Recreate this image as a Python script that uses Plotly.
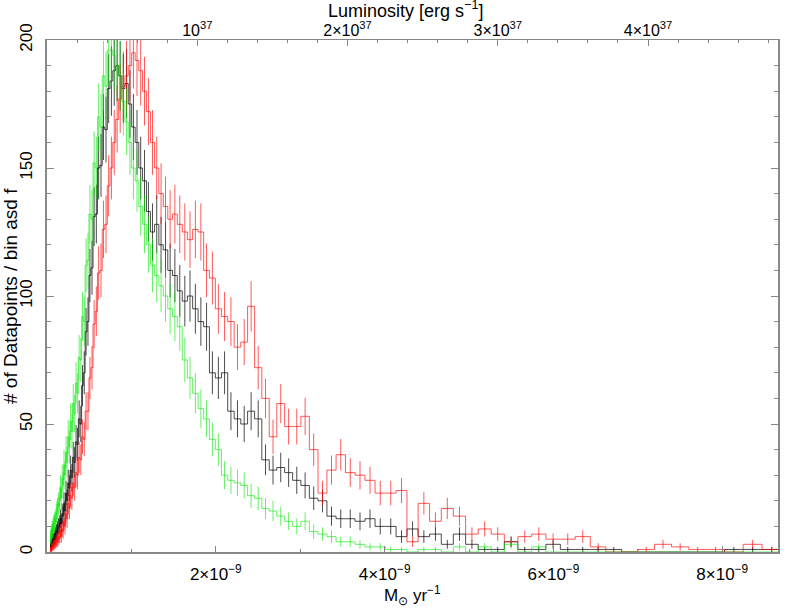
import numpy as np
import plotly.graph_objects as go

# bin grid (uniform in Mdot^0.2), units of 1e-9 Msun/yr
n_bins = 124
edges = (np.linspace(0.04 ** 0.2, 8.7 ** 0.2, n_bins + 1)) ** 5 * 1e-9
centers = 0.5 * (edges[:-1] + edges[1:])

# luminosity per unit accretion rate
lum_per_mdot = 1e37 / 1.78e-9
x_max = 8.66e-9

counts_green = [
    6, 5, 7, 6, 8, 9, 8, 10, 9, 11,
    11, 12, 13, 12, 15, 16, 17, 19, 18, 21,
    25, 21, 29, 26, 34, 30, 39, 35, 45, 41,
    51, 47, 58, 54, 66, 62, 76, 75, 92, 90,
    112, 114, 132, 130, 152, 150, 170, 166, 186, 182,
    196, 196, 194, 190, 186, 176, 168, 160, 150, 145,
    135, 128, 120, 112, 108, 104, 100, 95, 92, 88,
    75, 68, 62, 56, 52, 44, 40, 30, 28, 27,
    26, 22, 21, 17, 16, 14, 12, 10, 12, 8,
    7, 6, 4, 4, 3, 2, 2, 1, 1, 0,
    1, 1, 0, 2, 0, 2, 0, 3, 0, 2,
    0, 0, 0, 0, 0, 0, 0, 0, 0, 0,
    0, 0, 0, 0,
]
counts_black = [
    3, 2, 3, 4, 3, 4, 5, 4, 5, 5,
    6, 5, 7, 7, 8, 8, 9, 10, 10, 11,
    13, 11, 15, 14, 19, 16, 23, 20, 27, 25,
    32, 29, 37, 35, 43, 42, 52, 50, 65, 70,
    86, 90, 108, 111, 131, 132, 150, 151, 166, 165,
    181, 184, 188, 190, 186, 181, 183, 175, 166, 160,
    150, 145, 133, 125, 128, 120, 118, 110, 108, 102,
    98, 100, 95, 90, 88, 70, 68, 70, 55, 52,
    50, 55, 52, 36, 32, 33, 31, 28, 26, 21,
    20, 14, 13, 13, 12, 13, 10, 10, 6, 9,
    6, 7, 3, 7, 3, 1, 1, 4, 1, 1,
    3, 1, 1, 1, 1, 0, 0, 0, 0, 0,
    0, 1, 1, 1,
]
counts_red = [
    1, 1, 1, 2, 1, 2, 2, 2, 3, 2,
    3, 3, 4, 3, 4, 5, 4, 6, 5, 6,
    8, 6, 9, 8, 12, 10, 15, 13, 19, 17,
    22, 21, 27, 25, 31, 30, 37, 36, 45, 44,
    55, 55, 68, 72, 89, 94, 109, 110, 126, 128,
    143, 150, 160, 169, 177, 182, 186, 190, 195, 192,
    188, 180, 172, 160, 150, 140, 135, 130, 132, 128,
    125, 122, 126, 125, 110, 107, 95, 92, 90, 80,
    82, 96, 72, 60, 45, 58, 49, 49, 53, 40,
    23, 32, 38, 31, 30, 28, 23, 23, 24, 4,
    19, 12, 17, 14, 7, 9, 7, 4, 6, 7,
    5, 5, 6, 2, 0, 0, 1, 3, 2, 1,
    1, 0, 3, 1,
]

series = [
    ("black", counts_black, "rgba(0,0,0,0.7)"),
    ("red", counts_red, "rgba(255,0,0,0.65)"),
    ("green", counts_green, "rgba(0,230,0,0.6)"),
]

fig = go.Figure()
for name, counts, color in series:
    fig.add_trace(go.Scatter(
        x=list(edges),
        y=list(counts) + [counts[-1]],
        mode="lines",
        line=dict(color=color, width=1, shape="hv"),
        showlegend=False,
        hoverinfo="skip",
    ))
    fig.add_trace(go.Scatter(
        x=centers,
        y=counts,
        mode="markers",
        marker=dict(size=1, color="rgba(0,0,0,0)"),
        error_y=dict(type="data", array=np.sqrt(counts), width=0, thickness=1, color=color),
        showlegend=False,
        name=name,
    ))

# the same black histogram on the luminosity axis, invisible, so the top axis is drawn
fig.add_trace(go.Scatter(
    x=edges * lum_per_mdot,
    y=list(counts_black) + [counts_black[-1]],
    xaxis="x2",
    mode="lines",
    line=dict(color="rgba(0,0,0,0)", width=1, shape="hv"),
    showlegend=False,
    hoverinfo="skip",
))

font = dict(family="Liberation Sans, Arial, sans-serif", size=17, color="black")
axis_line = "#888888"

fig.update_layout(
    width=789,
    height=608,
    margin=dict(l=47, r=11, t=40, b=56),
    paper_bgcolor="white",
    plot_bgcolor="white",
    font=font,
    xaxis=dict(
        range=[0, x_max],
        tickmode="array",
        tickvals=[2e-9, 4e-9, 6e-9, 8e-9],
        ticktext=["2×10<sup>−9</sup>", "4×10<sup>−9</sup>", "6×10<sup>−9</sup>", "8×10<sup>−9</sup>"],
        ticks="inside",
        ticklen=6,
        tickcolor=axis_line,
        ticklabelstandoff=6,
        minor=dict(tickmode="linear", tick0=0, dtick=1e-9, ticks="inside", ticklen=3, tickcolor=axis_line),
        showline=True,
        linecolor=axis_line,
        linewidth=1.5,
        showgrid=False,
        zeroline=False,
        automargin=False,
    ),
    xaxis2=dict(
        overlaying="x",
        side="top",
        range=[0, x_max * lum_per_mdot],
        tickmode="array",
        tickvals=[1e37, 2e37, 3e37, 4e37],
        ticktext=["10<sup>37</sup>", "2×10<sup>37</sup>", "3×10<sup>37</sup>", "4×10<sup>37</sup>"],
        ticks="inside",
        ticklen=6,
        tickcolor=axis_line,
        ticklabelstandoff=-3,
        tickfont=dict(size=16),
        minor=dict(tickmode="linear", tick0=0, dtick=0.2e37, ticks="inside", ticklen=3, tickcolor=axis_line),
        showline=True,
        linecolor=axis_line,
        linewidth=1,
        showgrid=False,
        zeroline=False,
        automargin=False,
    ),
    yaxis=dict(
        range=[0, 200],
        tickmode="linear",
        tick0=0,
        dtick=50,
        tickangle=-90,
        ticks="inside",
        ticklen=7,
        tickcolor=axis_line,
        ticklabelstandoff=6,
        minor=dict(tickmode="linear", tick0=0, dtick=10, ticks="inside", ticklen=4, tickcolor=axis_line),
        showline=True,
        linecolor=axis_line,
        linewidth=1.5,
        mirror="ticks",
        showgrid=False,
        zeroline=False,
        automargin=False,
    ),
)

# axis titles as annotations so their positions can be set exactly
fig.add_annotation(text="Luminosity [erg s<sup>−1</sup>]", xref="paper", yref="paper",
                   x=0.49, y=1, yanchor="middle", yshift=31, showarrow=False,
                   font=dict(size=18))
fig.add_annotation(text="M<sub>⊙</sub> yr<sup>−1</sup>", xref="paper", yref="paper",
                   x=0.5, y=0, yanchor="middle", yshift=-43, showarrow=False)
fig.add_annotation(text="# of Datapoints / bin asd f", xref="paper", yref="paper",
                   x=0, y=0.5, xanchor="center", xshift=-37, textangle=-90, showarrow=False,
                   font=dict(size=19))

# drop the default page margin so the figure fills the window exactly
fig.write_html("out.html", config={"displayModeBar": False},
               post_script="document.body.style.margin='0px';")
